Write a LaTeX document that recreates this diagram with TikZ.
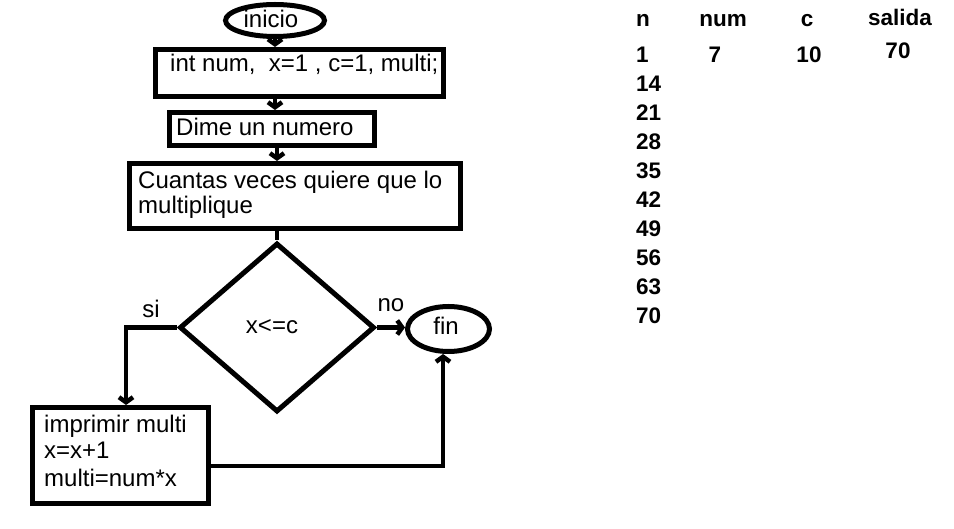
\documentclass[tikz,border=0pt]{standalone}
\usepackage{fontspec}
\setmainfont{Liberation Sans}
\usetikzlibrary{shapes.geometric,arrows.meta}
\tikzset{
  shp/.style={draw=black, line width=5pt, inner sep=0pt},
  boxs/.style={shp, rectangle},
  ovl/.style={shp, ellipse},
  conn/.style={draw=black, line width=4.5pt},
  arr/.style={conn, -{Straight Barb[length=5pt,width=14pt]}},
  ftxt/.style={font=\fontsize{24}{28}\selectfont, inner sep=0pt},
  ttxt/.style={font=\bfseries\fontsize{22.5}{27}\selectfont, inner sep=0pt}
}
\begin{document}
\begin{tikzpicture}[x=1pt,y=-1pt]
\useasboundingbox[fill=white] (0,0) rectangle (954,529);
% shapes
\node[ovl, minimum width=99pt, minimum height=32pt] (ini) at (275,20.5) {};
\node[boxs, minimum width=288pt, minimum height=47pt] (b1) at (299.5,73) {};
\node[boxs, minimum width=205pt, minimum height=33pt] (b2) at (272,129) {};
\node[boxs, minimum width=331pt, minimum height=65pt] (b3) at (295,196) {};
\node[shp, diamond, minimum width=195pt, minimum height=169pt] (dia) at (277,327.5) {};
\node[boxs, minimum width=176pt, minimum height=96pt] (b4) at (120.5,455.5) {};
\node[ovl, minimum width=82pt, minimum height=45pt] (fin) at (448.5,329) {};
% texts
\node[ftxt, anchor=base] (tini) at (271,27.5) {inicio};
\node[ftxt, anchor=base west] (t1) at (170,72) {int num,\ \ x=1 , c=1, multi;};
\node[ftxt, anchor=base west] (t2) at (176,136) {Dime un numero};
\node[ftxt, anchor=base west] (t3a) at (138,189) {Cuantas veces quiere que lo};
\node[ftxt, anchor=base west] (t3b) at (138,214) {multiplique};
\node[ftxt, anchor=base] (tcond) at (272,334) {x<=c};
\node[ftxt, anchor=base] (tsi) at (151,318) {si};
\node[ftxt, anchor=base] (tno) at (391,312) {no};
\node[ftxt, anchor=base] (tfin) at (446,335) {fin};
\node[ftxt, anchor=base west] (t4a) at (44,432) {imprimir multi};
\node[ftxt, anchor=base west] (t4b) at (44,459) {x=x+1};
\node[ftxt, anchor=base west] (t4c) at (44,486) {multi=num*x};
% connectors
\draw[arr] (ini.south) -- (ini.south |- b1.north);
\draw[arr] (b1.south -| ini.south) -- (b2.north -| ini.south);
\draw[arr] (b2.south -| dia.north) -- (b3.north -| dia.north);
\draw[conn] (b3.south -| dia.north) -- (dia.north);
\coordinate (csi) at (126,327.5);
\draw[arr] (dia.west) -- (csi) -- (b4.north -| csi);
\draw[arr] (dia.east) -- (dia.east -| fin.west);
\coordinate (cret) at (443,466);
\draw[arr] (b4.east |- cret) -- (cret) -- (fin.south -| cret);
% table
\node[ttxt, anchor=base west] (hn) at (636,27) {n};
\node[ttxt, anchor=base] (hnum) at (723,27) {num};
\node[ttxt, anchor=base] (hc) at (807,27) {c};
\node[ttxt, anchor=base] (hsal) at (900,26) {salida};
\node[ttxt, anchor=base] (vnum) at (715,63) {7};
\node[ttxt, anchor=base] (vc) at (809,63) {10};
\node[ttxt, anchor=base] (vsal) at (898,59) {70};
\foreach \v [count=\k from 0] in {1,14,21,28,35,42,49,56,63,70}{
  \node[ttxt, anchor=base west] (n\k) at (636,63+28.9*\k) {\v};
}
\end{tikzpicture}
\end{document}
